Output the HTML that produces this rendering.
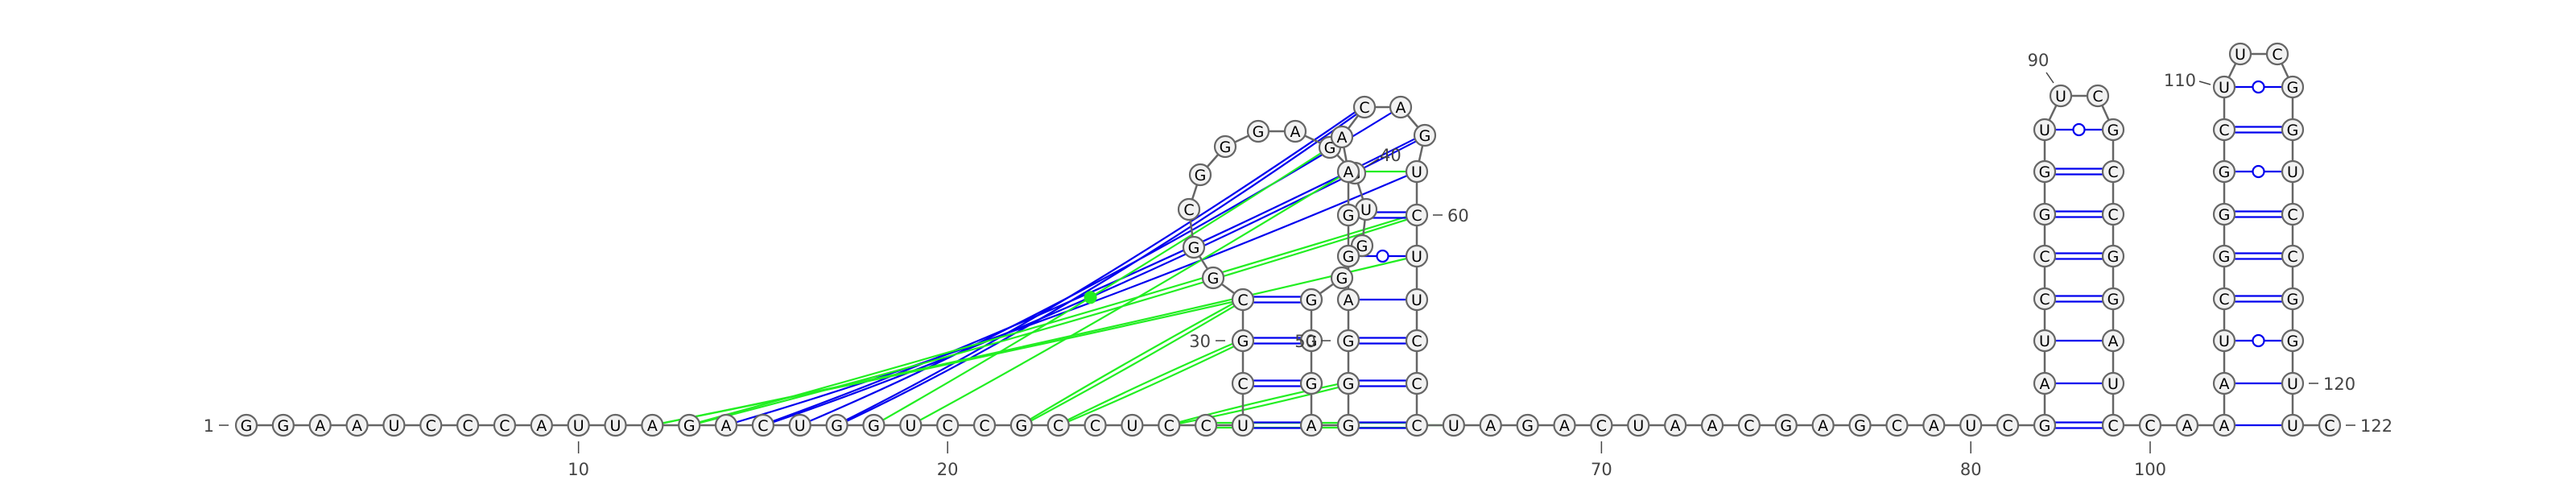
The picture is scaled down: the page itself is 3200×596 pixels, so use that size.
<!DOCTYPE html>
<html><head><meta charset="utf-8"><style>
html,body{margin:0;padding:0;background:#fff;}
svg{display:block;}
</style></head><body>
<svg id="rna" width="3200" height="596" viewBox="0 0 3200 596" xmlns="http://www.w3.org/2000/svg">
<g id="links"></g>
<g id="backbone"></g>
<g id="pairs"></g>
<g id="nodes"></g>
<g id="labels"></g>
</svg>
<script>
const sequence = "GGAAUCCCAUUAGACUGGUCCGCCUCCU" + "CGC" + "GGCGGGAGGUGGG" + "GGA" + "GGGAGGA" + "ACAG" + "UCUUCCC" + "UAGACUAACGAGCAUC" + "GAUCCGGU" + "UC" + "GCCGGAUC" + "CA" + "AAUCGGGCU" + "UC" + "GGUCCGGUU" + "C";
const stemLevels = [528,476,423,371,318,266,213,161,108];
const hairpinNodes = [[29,1544,476],[30,1544,423],[31,1544,372],[32,1507,345],[33,1483,307],[34,1477,260],[35,1491,217],[36,1522,182],[37,1563,163],[38,1609,163],[39,1652,183],[40,1683,215],[41,1697,260],[42,1692,305],[43,1667,345],[44,1629,372],[45,1629,423],[46,1629,476],[47,1629,528],[48,1675,528],[49,1675,476],[50,1675,423],[51,1675,372],[52,1675,318],[53,1675,267],[54,1675,213],[55,1667,170],[56,1695,133],[57,1740,133],[58,1770,168],[59,1760,213],[60,1760,267],[61,1760,318],[62,1760,372],[63,1760,423],[64,1760,476],[65,1760,528],[90,2560,119],[91,2606,119],[111,2783,67],[112,2829,67],[122,2894,528]];
const basePairs = [[28,47,'d'],[29,46,'d'],[30,45,'d'],[31,44,'d'],[48,65,'d'],[49,64,'d'],[50,63,'d'],[51,62,'s'],[52,61,'w'],[53,60,'d'],[54,59,'g'],
 [82,99,'d'],[83,98,'s'],[84,97,'s'],[85,96,'d'],[86,95,'d'],[87,94,'d'],[88,93,'d'],[89,92,'w'],
 [102,121,'s'],[103,120,'s'],[104,119,'w'],[105,118,'d'],[106,117,'d'],[107,116,'d'],[108,115,'w'],[109,114,'d'],[110,113,'w']];
const longLinks = [[14,59,'blue',0,0.09],[15,58,'blue',-3,0.09],[15,58,'blue',3,0.09],[16,57,'blue',0,0.09],[17,56,'blue',-3,0.09],[17,56,'blue',3,0.09],
 [12,61,'lime',0,0.04],[12,31,'lime',0,0.03],[13,60,'lime',-3,0.04],[13,60,'lime',3,0.04],[18,39,'lime',0,0.03],[19,54,'lime',0,0.03],
 [22,31,'lime',-3,0],[22,31,'lime',3,0],[23,30,'lime',-3,0],[23,30,'lime',3,0],[26,49,'lime',-3,0],[26,49,'lime',3,0]];
const tickPositions = [10,20,70,80,100];
const sideLabels = [[1,'1','left'],[30,'30','left'],[50,'50','left'],[60,'60','right'],[120,'120','right'],[122,'122','right']];

const NS = "http://www.w3.org/2000/svg";
function mk(tag, attrs, parent){ const e=document.createElementNS(NS,tag); for(const k in attrs) e.setAttribute(k,attrs[k]); parent.appendChild(e); return e; }
const pos = {};
for(let n=1;n<=28;n++) pos[n]=[306+(n-1)*45.85,528];
for(let n=66;n<=81;n++) pos[n]=[1760+(n-65)*45.88,528];
for(let k=0;k<8;k++){ pos[82+k]=[2540,stemLevels[k]]; pos[99-k]=[2625,stemLevels[k]]; }
pos[100]=[2671,528]; pos[101]=[2717,528];
for(let k=0;k<9;k++){ pos[102+k]=[2763,stemLevels[k]]; pos[121-k]=[2848,stemLevels[k]]; }
hairpinNodes.forEach(h=>{ pos[h[0]]=[h[1],h[2]]; });

const gLinks=document.getElementById('links'), gBack=document.getElementById('backbone'), gPairs=document.getElementById('pairs'), gNodes=document.getElementById('nodes'), gLab=document.getElementById('labels');

let dotPos=null;
longLinks.forEach(l=>{
  const a=pos[l[0]], b=pos[l[1]], off=l[3], curv=l[4];
  const x1=a[0]+off*0.5, y1=a[1], x2=b[0], y2=b[1]+off*0.6;
  const cx=x1+0.45*(x2-x1)+off*0.5;
  const cy=y1+(0.45-curv)*(y2-y1)+off;
  const p=mk('path',{d:`M${x1},${y1} Q${cx},${cy} ${x2},${y2}`,fill:'none',stroke:l[2]==='blue'?'#0000ee':'#22ee22','stroke-width':2.2},gLinks);
  
  
  if(l[0]===18 && l[1]===39){ dotPos=[0.25*x1+0.5*cx+0.25*x2, 0.25*y1+0.5*cy+0.25*y2]; }
});
[[27,65,-3],[27,65,3],[65,66,0]].forEach(s=>{
  const a=pos[s[0]], b=pos[s[1]];
  const ln=mk('line',{x1:a[0],y1:a[1]+s[2],x2:b[0],y2:b[1]+s[2],stroke:'#22ee22','stroke-width':2.2},gLinks);
  
  
});
if(dotPos){
  const dot=mk('circle',{cx:dotPos[0],cy:dotPos[1],r:8,fill:'#22ee22'},gLinks);
  
  
}

for(let n=1;n<122;n++){
  const a=pos[n], b=pos[n+1];
  const ln=mk('line',{x1:a[0],y1:a[1],x2:b[0],y2:b[1],stroke:'#666','stroke-width':2.5},gBack);
  
  
}
basePairs.forEach(p=>{
  const a=pos[p[0]], b=pos[p[1]], t=p[2];
  const col = t==='g' ? '#22ee22' : '#0000ee';
  if(t==='d'){
    [-3.5,3.5].forEach(o=>{ const ln=mk('line',{x1:a[0],y1:a[1]+o,x2:b[0],y2:b[1]+o,stroke:col,'stroke-width':2.2},gPairs);
      
       });
  } else {
    const ln=mk('line',{x1:a[0],y1:a[1],x2:b[0],y2:b[1],stroke:col,'stroke-width':2.2},gPairs);
    
    
    if(t==='w'){
      const c=mk('circle',{cx:(a[0]+b[0])/2,cy:(a[1]+b[1])/2,r:7,fill:'#fff',stroke:col,'stroke-width':2.2},gPairs);
      
      
    }
  }
});
for(let n=1;n<=122;n++){
  const p=pos[n];
  const g=mk('g',{},gNodes);
  
  
  mk('circle',{cx:p[0],cy:p[1],r:13,fill:'#f2f2f2',stroke:'#666','stroke-width':2.2},g);
  const t=mk('text',{x:p[0],y:p[1]+7,'text-anchor':'middle','font-family':'DejaVu Sans, Liberation Sans, sans-serif','font-size':19,fill:'#000'},g);
  t.textContent=sequence[n-1];
}
tickPositions.forEach(n=>{
  const p=pos[n];
  const ln=mk('line',{x1:p[0],y1:548,x2:p[0],y2:563,stroke:'#444','stroke-width':1.5},gLab);
  
  
  const t=mk('text',{x:p[0],y:590,'text-anchor':'middle','font-family':'DejaVu Sans, Liberation Sans, sans-serif','font-size':21,fill:'#444'},gLab);
  
  
  t.textContent=String(n);
});
sideLabels.forEach(s=>{
  const p=pos[s[0]];
  const left = s[2]==='left';
  const dx1 = left ? p[0]-34 : p[0]+20, dx2 = left ? p[0]-22 : p[0]+32;
  const ln=mk('line',{x1:dx1,y1:p[1],x2:dx2,y2:p[1],stroke:'#444','stroke-width':1.5},gLab);
  
  
  const t=mk('text',{x:left?p[0]-40:p[0]+38,y:p[1]+8,'text-anchor':left?'end':'start','font-family':'DejaVu Sans, Liberation Sans, sans-serif','font-size':21,fill:'#444'},gLab);
  
  
  t.textContent=s[1];
});
[[40,1700,205,1713,197,1714,200,'start'],[90,2551,103,2542,90,2532,82,'middle'],[110,2746,105,2732,101,2728,107,'end']].forEach(s=>{
  const ln=mk('line',{x1:s[1],y1:s[2],x2:s[3],y2:s[4],stroke:'#444','stroke-width':1.5},gLab);
  
  
  const t=mk('text',{x:s[5],y:s[6],'text-anchor':s[7],'font-family':'DejaVu Sans, Liberation Sans, sans-serif','font-size':21,fill:'#444'},gLab);
  
  
  t.textContent=String(s[0]);
});
</script>
</body></html>
